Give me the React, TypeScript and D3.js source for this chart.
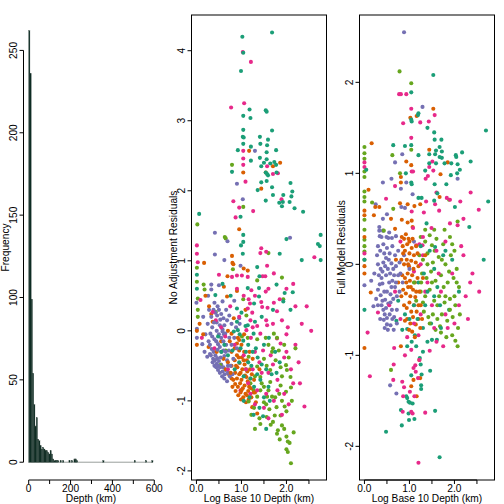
import * as d3 from 'd3';

const FONT = '"Liberation Sans", Arial, Helvetica, sans-serif';
const FS = 10.2;

const TEAL = '#1B9E77';
const ORANGE = '#D95F02';
const PURPLE = '#7570B3';
const PINK = '#E7298A';
const GREEN = '#66A61E';

// histogram of depth (km), 6 km bins
const binWidth = 6;
const binStart = [0, 6, 12, 18, 24, 30, 36, 42, 48, 54, 60, 66, 72, 78, 84, 90, 96, 102, 108, 114, 120, 126, 132, 138, 150, 162, 192, 204, 216, 222, 228, 354, 504, 558, 588];
const binCount = [262, 236, 99, 54, 35, 22, 27, 14, 13, 10, 8, 9, 8, 7, 7, 6, 5, 7, 5, 2, 1, 1, 1, 1, 1, 1, 1, 1, 2, 2, 1, 1, 1, 1, 1];
const freqTicks = [0, 50, 100, 150, 200, 250];
const depthTicks = [0, 100, 200, 300, 400, 500, 600];
const depthLabels = [0, 200, 400, 600];

const logTicks = [0, 0.5, 1, 1.5, 2, 2.5];
const logLabels = [0, 1, 2];
const noAdjTicks = [-2, -1, 0, 1, 2, 3, 4];
const fullTicks = [-2, -1, 0, 1, 2];

type P = [number, number];

// ---- panel 2: No Adjustment Residuals ----
const teal2: P[] = [
  [1.68, 4.26], [1.02, 4.2], [1.04, 3.97], [0.99, 3.71], [1.18, 3.16], [1.54, 3.15], [1.56, 3.13], [1.04, 3.07], [1.2, 3.04],
  [1.04, 2.87], [1.68, 2.86], [1.03, 2.77], [1.05, 2.76], [1.41, 2.77], [1.59, 2.73], [1.04, 2.67], [1.21, 2.63], [1.42, 2.67],
  [1.57, 2.65], [0.92, 2.58], [1.77, 2.58], [1.56, 2.55], [1.41, 2.47], [1.56, 2.45], [1.21, 2.43], [1.5, 2.4], [1.64, 2.39],
  [1.73, 2.41], [1.77, 2.37], [1.44, 2.35], [0.79, 2.27], [1.54, 2.26], [1.57, 2.24], [1.59, 2.22], [1.78, 2.26], [1.44, 2.12],
  [1.56, 2.14], [2.09, 2.11], [1.68, 2.05], [1.36, 2.01], [2.13, 1.99], [1.7, 1.94], [1.93, 1.94], [2.11, 1.92], [2.07, 1.84],
  [1.54, 1.86], [1.84, 1.83], [1.92, 1.84], [1.9, 1.78], [2.18, 1.75], [2.37, 1.7], [0.06, 1.67], [0.98, 1.63], [1.04, 1.37],
  [1.04, 1.27], [0.99, 1.22], [2.0, 1.31], [2.7, 1.24], [2.74, 1.21], [2.76, 1.37],
  [1.03, 1.1], [1.85, 1.1], [2.34, 1.01], [2.76, 1.01], [1.35, 0.91], [0.01, 0.8], [1.4, 0.78], [1.78, 0.66], [0.58, 0.67],
  [0.01, 0.6], [1.14, 0.61], [1.39, 0.61], [1.96, 0.54], [0.42, 0.51], [0.76, 0.5], [1.28, 0.39], [1.39, 0.49], [1.93, 0.42],
  [0.9, 0.32], [1.0, 0.26], [2.09, 0.3], [2.14, 0.55], [0.9, 0.13], [1.09, 0.07], [1.14, 0.08], [1.3, 0.13], [0.48, -0.08],
  [0.83, -0.01], [0.92, 0.01], [0.96, -0.05], [1.04, -0.14], [1.27, -0.04], [1.61, -0.1], [0.62, -0.2], [0.8, -0.28],
  [1.1, -0.3], [1.36, -0.38], [1.75, -0.3], [0.95, -0.45], [1.22, -0.5], [1.55, -0.55], [1.05, -0.65], [1.42, -0.7],
  [1.67, -0.62], [1.28, -0.8], [1.18, -0.95], [1.5, -0.95], [1.63, -1.0], [1.4, -1.1], [1.48, -1.22], [1.55, -1.4],
  [1.27, -1.2], [0.7, -0.35], [0.85, -0.55], [1.15, -0.2], [0.55, -0.3], [1.32, -0.25], [1.45, 0.2], [1.7, 0.3], [1.85, -0.45],
  [1.15, -0.45], [1.25, -0.3], [1.45, -0.48], [1.6, -0.8], [1.35, -0.62], [1.05, -1.0], [1.2, -0.68], [0.98, -0.25],
  [1.5, -0.2], [1.78, -0.6],
];

const pink2: P[] = [
  [1.03, 3.98], [1.21, 3.84], [1.06, 3.25], [0.77, 3.19], [1.04, 2.57], [1.04, 2.46], [1.04, 2.37], [1.57, 2.35], [1.7, 2.24],
  [1.81, 2.25], [1.09, 2.13], [1.89, 1.88], [0.82, 1.85], [0.95, 1.76], [1.26, 1.71], [0.87, 1.62], [0.01, 1.22], [1.44, 1.18],
  [0.01, 1.1], [1.42, 1.11], [1.55, 1.13], [2.62, 1.05], [0.03, 0.98], [1.57, 0.93], [0.5, 0.8], [0.79, 0.77], [0.9, 0.79],
  [1.01, 0.79], [1.14, 0.77], [1.47, 0.78], [1.53, 0.78], [1.72, 0.82], [2.15, 0.67], [0.9, 0.6], [1.54, 0.56], [1.22, 0.58],
  [0.09, 0.44], [1.16, 0.45], [1.19, 0.39], [1.44, 0.41], [1.72, 0.4], [0.36, 0.27], [1.14, 0.32], [1.24, 0.26], [1.58, 0.33],
  [1.79, 0.28], [1.46, 0.34], [0.43, 0.15], [1.2, 0.15], [1.35, 0.07], [1.55, 0.15], [1.57, 0.08], [2.03, 0.05], [2.34, 0.1],
  [0.12, -0.1], [0.64, -0.08], [1.11, 0.01], [1.21, -0.1], [1.42, -0.04], [1.79, -0.11], [1.87, -0.18], [2.0, -0.05],
  [2.2, -0.2], [2.27, -0.45], [1.3, -0.3], [1.48, -0.28], [1.65, -0.35], [1.95, -0.38], [1.05, -0.35], [0.85, -0.2],
  [1.25, -0.55], [1.4, -0.45], [1.6, -0.6], [1.8, -0.7], [2.1, -0.55], [2.3, -0.75], [1.15, -0.75], [1.35, -0.85],
  [1.55, -0.9], [1.72, -1.0], [1.95, -0.9], [2.05, -1.05], [2.4, -1.08], [1.3, -1.05], [1.6, -1.25], [1.9, -1.2],
  [0.4, -0.25], [0.7, -0.55], [0.55, 0.05], [0.98, -0.85], [2.55, 0.0],
  [1.3, 0.5], [1.6, 0.6], [1.85, 0.45], [2.0, 0.6], [1.25, 0.05], [1.7, 0.1], [1.9, 0.15], [2.2, 0.35], [1.45, -0.6],
  [1.7, -0.48], [2.0, -0.3], [1.1, -0.55], [1.2, -0.9], [1.5, -1.1], [1.8, -0.85], [2.15, -0.75], [0.95, 0.2], [1.05, 0.5],
  [0.75, 0.35], [2.45, 0.35],
];

const green2: P[] = [
  [0.79, 2.37], [1.04, 1.77], [0.02, 1.52], [0.63, 1.34], [0.65, 1.32],
  [0.01, 0.9], [0.01, 0.7], [0.03, 0.46], [0.03, 0.3], [0.03, 0.2], [0.16, 0.66], [0.18, 0.59], [0.81, 0.88], [1.6, 1.11],
  [1.35, 0.72], [1.9, 0.76], [1.04, 0.45], [1.93, 0.45], [1.11, 0.22], [0.43, 0.27], [1.01, -0.08], [1.14, -0.1],
  [1.35, -0.12], [1.54, -0.1], [1.72, -0.04], [2.07, -1.6], [2.03, -1.58], [2.0, -1.51], [2.16, -1.45], [2.0, -1.69],
  [2.1, -1.89], [2.03, -1.73], [1.79, -1.47], [1.81, -1.42], [1.65, -1.34], [1.42, -1.33], [1.56, -1.23], [1.74, -1.21],
  [1.87, -1.21], [1.96, -1.08], [1.78, -1.09], [1.62, -1.12], [1.68, -0.94], [1.84, -0.9], [1.99, -0.87], [2.1, -0.81],
  [1.87, -0.78], [2.09, -0.66], [2.01, -0.56], [1.99, -0.49], [2.05, -0.38], [1.87, -0.52], [1.76, -0.42], [1.64, -0.56],
  [1.64, -0.73], [1.5, -0.8], [1.42, -0.85], [1.35, -0.94], [1.27, -0.85], [1.2, -0.75], [1.42, -0.66], [1.56, -0.5],
  [1.35, -0.51], [1.16, -0.37], [1.79, -0.1], [1.83, -0.28], [1.5, -1.02], [1.57, -0.94], [1.16, -1.01], [0.65, -0.28],
  [0.53, -0.49], [1.28, -1.1], [1.9, -1.35], [1.7, -0.25], [2.2, -0.25],
  [1.45, -0.75], [1.6, -0.85], [1.75, -0.95], [1.9, -1.0], [2.0, -1.15], [1.7, -1.3], [1.85, -1.55], [1.95, -1.4],
  [1.55, -1.05], [1.3, -0.65], [1.5, -0.4], [1.68, -0.3], [1.9, -0.65], [2.12, -1.0], [1.4, -1.25], [1.3, -1.4],
  [1.22, -1.2], [1.1, -0.55], [1.6, -0.2], [1.95, -0.2],
];

const orange2: P[] = [
  [1.17, 2.57], [1.04, 2.26], [1.54, 2.26], [1.7, 2.35], [1.86, 2.4], [1.44, 2.03], [0.95, 1.45],
  [0.79, 1.07], [0.17, 0.97], [0.8, 0.97], [0.82, 0.95], [1.05, 0.89], [1.14, 0.86], [0.69, 0.78], [0.61, 0.63], [0.9, 0.57],
  [0.68, 0.49], [0.33, 0.24], [1.09, 0.3], [0.36, 0.13], [0.83, 0.18], [0.07, 0.1], [0.01, 0.0], [0.01, -0.2], [0.27, -0.23],
  [0.7, 0.0], [0.78, -0.04], [0.95, -0.13],
  [0.78, -0.3], [0.78, -0.5], [0.78, -0.68], [0.8, -0.8], [0.85, -0.25], [0.85, -0.42], [0.86, -0.6], [0.86, -0.76],
  [0.87, -0.86], [0.9, -0.18], [0.9, -0.35], [0.91, -0.52], [0.9, -0.68], [0.92, -0.8], [0.93, -0.92], [0.95, -0.28],
  [0.96, -0.46], [0.95, -0.62], [0.97, -0.75], [0.98, -0.88], [0.99, -0.98], [1.0, -0.2], [1.01, -0.38], [1.02, -0.55],
  [1.0, -0.7], [1.03, -0.82], [1.04, -0.95], [1.06, -0.3], [1.07, -0.48], [1.08, -0.64], [1.07, -0.78], [1.09, -0.9],
  [1.1, -1.02], [1.12, -0.42], [1.13, -0.58], [1.14, -0.72], [1.15, -0.86], [1.16, -0.98], [1.19, -0.55], [1.2, -0.68],
  [1.21, -0.82], [1.22, -0.95], [1.24, -1.09], [1.28, -0.7], [1.3, -0.88], [1.35, -1.18], [1.32, -1.02], [0.7, -0.45],
  [0.72, -0.62], [0.65, -0.55], [0.6, -0.4], [0.55, -0.15], [0.45, -0.3], [1.4, -0.55], [1.25, -0.4], [0.2, 0.5], [0.28, 0.35],
  [0.15, -0.05],
  [0.82, -0.7], [0.88, -0.5], [0.94, -0.38], [1.0, -0.85], [1.05, -0.42], [1.11, -0.66], [1.17, -0.8], [1.23, -0.62],
  [1.27, -0.88], [0.92, -0.1], [1.06, -0.05], [1.18, -0.3], [0.76, -0.6], [0.98, -0.6], [1.12, -0.92], [0.74, -0.15],
];

const purple2: P[] = [
  [1.3, 2.57], [0.9, 2.1], [1.03, 1.88], [0.41, 1.4], [0.69, 1.28], [2.08, 1.33], [0.41, 1.09], [0.62, 1.01], [0.98, 0.93],
  [0.33, 0.66], [0.33, 0.59], [0.5, 0.65], [0.0, 0.4], [0.26, 0.5], [0.58, 0.42], [0.84, 0.43], [0.28, 0.3], [0.01, 0.03],
  [0.01, -0.1], [0.13, -0.19], [0.18, -0.3], [0.24, -0.37], [0.3, -0.33],
  [0.38, 0.3], [0.42, 0.26], [0.46, 0.22], [0.5, 0.3], [0.55, 0.24], [0.6, 0.18], [0.45, 0.12], [0.52, 0.08], [0.58, 0.02],
  [0.64, -0.04], [0.68, 0.15], [0.73, 0.22], [0.78, 0.1], [0.95, 0.18], [0.96, 0.1], [0.31, -0.04], [0.35, -0.08],
  [0.4, -0.12], [0.44, -0.15], [0.48, -0.19], [0.52, -0.23], [0.58, -0.01], [0.61, -0.05], [0.73, -0.1], [0.84, -0.1],
  [0.3, -0.2], [0.34, -0.26], [0.38, -0.3], [0.42, -0.35], [0.46, -0.39], [0.5, -0.43], [0.55, -0.48], [0.6, -0.52],
  [0.65, -0.56], [0.36, -0.45], [0.4, -0.5], [0.44, -0.52], [0.48, -0.56], [0.52, -0.6], [0.57, -0.65], [0.62, -0.68],
  [0.68, -0.72], [0.56, -0.3], [0.62, -0.36], [0.68, -0.42], [0.72, -0.28], [0.66, -0.2], [0.76, -0.5], [0.8, -0.62],
  [0.82, -0.4], [0.2, -0.05], [0.25, 0.1], [0.35, 0.05], [0.4, 0.4], [0.15, 0.2], [0.88, 0.05], [0.9, -0.25], [0.45, 0.0],
  [0.5, -0.05], [0.55, -0.1], [0.6, -0.15], [0.65, -0.3], [0.7, -0.6], [0.74, -0.65],
  [0.32, -0.35], [0.37, -0.4], [0.41, -0.42], [0.45, -0.47], [0.49, -0.5], [0.53, -0.52], [0.58, -0.58], [0.63, -0.62],
  [0.39, 0.12], [0.47, 0.35], [0.53, 0.16], [0.62, 0.08], [0.66, 0.3], [0.7, -0.5], [0.78, -0.2], [0.6, -0.28],
  [0.54, -0.38], [0.47, -0.27], [0.33, 0.2], [0.27, -0.15],
];

// ---- panel 3: Full Model Residuals ----
const teal3: P[] = [
  [1.53, 2.08], [1.04, 1.89], [1.2, 1.66], [1.19, 1.64], [1.04, 1.59], [1.05, 1.57], [1.4, 1.5], [1.55, 1.45], [2.7, 1.47],
  [1.56, 1.37], [1.71, 1.37], [0.64, 1.31], [0.9, 1.3], [1.04, 1.31], [1.67, 1.29], [1.59, 1.25], [1.72, 1.24], [2.17, 1.23],
  [2.03, 1.2], [1.2, 1.2], [1.44, 1.21], [1.57, 1.21], [1.67, 1.18], [1.72, 1.17], [2.04, 1.18], [2.36, 1.13], [1.44, 1.11],
  [1.59, 1.11], [1.78, 1.11], [1.93, 1.11], [2.07, 1.1], [0.04, 1.04], [1.35, 1.03], [2.12, 1.04], [2.06, 1.0], [0.92, 1.0],
  [1.92, 0.98], [1.04, 0.9], [1.05, 0.88], [1.56, 0.88], [1.82, 0.88], [1.2, 0.73], [1.27, 0.73], [1.55, 0.7], [2.75, 0.69],
  [2.01, 0.63], [2.33, 0.41], [1.57, 0.19], [1.62, 0.78], [1.38, 0.45],
  [0.0, 0.05], [0.0, -0.5], [0.71, -0.62], [0.84, -0.72], [0.95, -0.71], [1.3, -0.96], [1.5, -0.83], [1.61, -0.83],
  [1.23, -1.03], [1.25, -1.1], [1.46, -1.17], [1.27, -1.21], [1.04, -1.22], [1.26, -1.33], [1.26, -1.37], [0.93, -1.45],
  [0.95, -1.47], [0.98, -1.51], [1.01, -1.52], [1.07, -1.53], [0.81, -1.6], [0.98, -1.64], [0.99, -1.71], [1.11, -1.7],
  [1.57, -1.61], [0.83, -1.77], [0.48, -1.84], [1.67, -2.12],
  [1.2, -0.2], [1.35, -0.45], [1.48, -0.65], [1.05, -0.85], [1.15, -0.9], [1.62, -0.25], [1.75, 0.1], [1.88, -0.5],
  [2.1, -0.3], [1.45, 0.15], [1.3, -0.7], [0.9, -0.55], [1.0, -0.6], [1.12, -0.78], [1.4, -0.85], [2.65, 0.05],
  [1.55, -0.05], [0.75, -0.4], [1.68, -0.45],
  [1.25, 0.2], [1.4, -0.3], [1.55, -0.35], [1.7, -0.7], [1.8, 0.15], [1.95, 0.05], [1.1, -0.45], [1.32, -0.1], [1.18, -0.6],
  [0.95, -0.9],
];

const pink3: P[] = [
  [0.77, 1.87], [0.81, 1.87], [0.93, 1.87], [1.04, 1.71], [1.56, 1.64], [0.86, 1.55], [1.24, 1.56], [1.43, 1.57], [1.04, 1.39],
  [1.51, 1.13], [0.0, 1.12], [0.0, 1.07], [1.05, 1.02], [1.44, 1.07], [1.53, 1.03], [1.08, 1.02], [1.36, 0.94], [1.41, 0.97],
  [0.68, 0.86], [0.48, 0.72], [1.05, 0.58], [1.37, 0.69], [1.6, 0.79], [1.57, 0.66], [1.83, 0.73], [1.9, 0.71], [2.13, 0.69],
  [2.36, 0.79], [2.54, 0.6], [1.32, 0.57], [1.66, 0.59], [2.07, 0.43], [1.49, 0.4], [1.15, 0.21], [1.22, 0.22], [1.29, 0.21],
  [1.08, 0.4], [0.0, 0.12], [0.07, -0.75], [0.12, -1.23], [0.3, -0.53], [0.8, 0.25], [1.3, 0.3], [1.8, 0.25], [2.2, 0.1],
  [2.4, -0.1], [2.55, -0.3], [1.1, -0.08], [1.4, -0.2], [1.7, -0.3], [1.95, -0.1], [2.25, -0.35], [1.25, -0.55],
  [1.5, -0.45], [1.8, -0.55], [2.0, -0.65], [2.3, -0.6], [0.95, -0.8], [1.2, -0.78], [1.6, -0.85], [1.85, -0.7],
  [0.55, -0.45], [0.68, -0.3], [0.8, -0.6], [0.66, -0.92], [1.04, -0.94], [1.13, -1.11], [1.09, -1.14], [0.65, -1.1],
  [1.14, -1.18], [1.19, -1.25], [0.64, -1.27], [0.84, -1.29], [0.88, -1.35], [0.86, -1.45], [1.11, -1.45], [1.01, -1.4],
  [1.04, -1.62], [1.07, -1.64], [0.85, -1.62], [1.35, -1.63], [1.2, -2.18], [1.22, -1.05],
  [1.3, 0.1], [1.6, 0.15], [1.9, 0.45], [2.2, 0.5], [1.35, -0.3], [1.65, -0.1], [2.1, -0.45], [2.35, -0.2], [1.55, -0.7],
  [1.75, -0.9], [1.45, -0.95], [0.9, -1.0], [1.1, -0.65], [2.15, 0.2], [1.25, 0.0],
];

const green3: P[] = [
  [0.0, 1.29], [0.0, 1.22], [0.0, 1.16], [0.0, 1.02], [0.0, 0.96], [0.0, 0.8], [0.0, 0.74], [0.0, 0.69], [0.0, 0.49],
  [0.0, 0.38], [0.0, 0.27], [0.0, 0.14], [0.0, 0.05], [0.0, 0.2], [0.78, 2.12], [1.04, 1.99], [1.04, 1.26], [0.62, 1.2],
  [0.79, 1.0], [0.17, 0.68], [0.64, 0.61], [1.88, 0.71], [2.07, 0.47], [1.78, 0.38], [0.43, 0.37], [1.55, 0.38], [1.5, 0.21],
  [0.59, -1.16],
  [1.25, 0.3], [1.35, 0.25], [1.45, 0.32], [1.6, 0.28], [1.75, 0.22], [1.9, 0.3], [2.0, 0.15], [1.22, 0.1], [1.3, 0.05],
  [1.4, 0.12], [1.52, 0.02], [1.65, 0.08], [1.8, 0.0], [1.92, 0.1], [2.05, -0.05], [1.28, -0.1], [1.38, -0.15],
  [1.48, -0.08], [1.58, -0.18], [1.7, -0.12], [1.85, -0.2], [1.98, -0.15], [2.1, -0.25], [1.25, -0.3], [1.35, -0.35],
  [1.45, -0.28], [1.55, -0.4], [1.66, -0.35], [1.78, -0.42], [1.9, -0.38], [2.02, -0.45], [1.32, -0.52], [1.42, -0.58],
  [1.52, -0.55], [1.62, -0.6], [1.72, -0.55], [1.84, -0.62], [1.96, -0.58], [2.08, -0.7], [1.7, -0.75], [1.82, -0.8],
  [1.95, -0.78], [2.07, -0.9], [2.02, -0.84], [1.58, -0.72], [1.1, -0.2], [1.15, -0.4],
  [1.3, -0.42], [1.5, -0.2], [1.62, -0.45], [1.76, -0.25], [1.88, -0.08], [2.0, -0.35], [1.4, 0.0], [1.56, 0.15],
  [1.72, 0.05], [1.95, 0.22], [1.45, -0.65], [1.68, -0.68], [1.9, -0.5], [2.12, -0.55], [1.35, 0.38], [1.26, -0.2],
  [1.8, -0.35], [2.05, -0.2],
];

const orange3: P[] = [
  [1.53, 1.71], [1.16, 1.63], [1.02, 1.61], [0.16, 1.33], [1.44, 1.26], [0.93, 1.13], [1.85, 1.12], [1.04, 1.09],
  [1.69, 0.99], [0.81, 0.96], [0.81, 0.9], [0.09, 0.82], [0.24, 0.63], [0.33, 0.63], [0.79, 0.67], [0.96, 0.66],
  [1.11, 0.64], [1.24, 0.66], [1.67, 0.74], [0.0, 0.59], [0.0, 0.54], [0.21, 0.54], [0.59, 0.5], [0.68, 0.39], [0.83, 0.49],
  [0.96, 0.46], [1.05, 0.48], [1.07, 0.41], [0.83, 0.3], [0.92, 0.33], [0.98, 0.28], [0.0, -0.1], [0.14, -0.31],
  [0.0, -0.92], [0.81, -0.9], [1.22, -1.05], [1.24, -1.25], [1.09, -1.27], [1.04, -1.34], [1.16, -1.45], [0.0, 0.3],
  [0.0, -0.02],
  [0.85, 0.2], [0.9, 0.15], [0.95, 0.22], [1.0, 0.12], [1.05, 0.18], [1.1, 0.1], [1.15, 0.2], [0.82, 0.05], [0.88, 0.0],
  [0.94, 0.05], [0.99, -0.02], [1.04, 0.04], [1.09, -0.05], [1.14, 0.02], [1.2, -0.02], [0.84, -0.12], [0.9, -0.15],
  [0.96, -0.1], [1.01, -0.18], [1.06, -0.12], [1.12, -0.2], [1.18, -0.15], [0.86, -0.28], [0.92, -0.32], [0.97, -0.25],
  [1.02, -0.35], [1.08, -0.28], [1.13, -0.36], [1.22, -0.3], [0.88, -0.45], [0.94, -0.48], [1.0, -0.42], [1.04, -0.52],
  [1.1, -0.45], [1.16, -0.52], [1.25, -0.45], [0.95, -0.6], [1.02, -0.65], [1.08, -0.58], [1.14, -0.66], [1.2, -0.6],
  [1.06, -0.74], [0.99, -0.72], [0.75, -0.2], [0.7, 0.05], [1.3, -0.15], [1.35, 0.1],
  [0.88, 0.28], [0.97, 0.0], [1.07, 0.28], [1.18, 0.12], [0.9, -0.62], [1.12, -0.8], [1.24, -0.7], [0.82, -0.35],
  [1.28, -0.6], [0.93, -0.2], [1.03, -0.25], [1.15, -0.3], [1.2, -0.45], [0.86, 0.12], [1.0, 0.25],
];

const purple3: P[] = [
  [0.88, 2.55], [1.29, 1.73], [0.84, 1.21], [0.68, 1.12], [2.07, 0.94], [0.41, 0.9], [0.6, 0.94], [0.93, 0.9], [0.81, 0.83],
  [1.07, 0.77], [0.25, 0.66], [0.82, 0.63], [0.9, 0.62], [0.41, 0.5], [0.5, 0.55], [0.33, 0.41], [0.33, 0.37], [0.41, 0.37],
  [0.34, 0.31], [0.49, 0.3], [0.53, 0.29], [0.61, 0.29], [0.7, 0.31], [0.0, -0.23], [0.15, -0.18], [0.2, -0.46],
  [0.57, -1.33], [0.71, -1.42],
  [0.48, 0.07], [0.6, 0.01], [0.4, -0.21], [0.44, -0.3], [0.46, -0.39], [0.53, -0.43], [0.61, -0.5], [0.43, -0.61],
  [0.5, -0.59], [0.58, -0.67], [0.65, -0.72], [0.3, 0.2], [0.35, 0.15], [0.42, 0.22], [0.5, 0.18], [0.56, 0.12],
  [0.62, 0.2], [0.68, 0.1], [0.75, 0.15], [0.3, 0.0], [0.36, -0.05], [0.42, 0.02], [0.52, -0.05], [0.57, -0.1],
  [0.64, -0.05], [0.7, -0.02], [0.78, 0.02], [0.32, -0.12], [0.38, -0.15], [0.48, -0.12], [0.55, -0.2], [0.62, -0.18],
  [0.68, -0.25], [0.75, -0.12], [0.3, -0.28], [0.36, -0.34], [0.5, -0.3], [0.58, -0.33], [0.64, -0.38], [0.72, -0.35],
  [0.78, -0.3], [0.38, -0.45], [0.42, -0.5], [0.48, -0.48], [0.56, -0.55], [0.66, -0.58], [0.72, -0.5], [0.45, -0.7],
  [0.52, -0.72], [0.35, -0.6], [0.26, -0.38], [0.22, -0.1], [0.28, 0.1], [0.85, -0.2], [0.88, 0.1], [1.0, -0.05], [1.1, 0.25],
  [0.34, -0.22], [0.4, -0.08], [0.46, -0.02], [0.54, 0.05], [0.6, -0.25], [0.66, -0.12], [0.72, -0.65], [0.5, -0.66],
  [0.4, -0.4], [0.44, 0.12], [0.58, -0.42], [0.7, -0.2], [0.62, -0.6], [0.38, 0.3], [0.55, 0.35], [0.45, -0.55],
  [0.8, -0.1], [0.3, -0.45],
];

const TOP = 15;
const BOTTOM = 480;
const FIG_W = 168;
const LEFT = 23.5;
const PLOT_W = 135;

const txt = { fontFamily: FONT, fontSize: FS, fill: '#000' } as const;

function YAxis({ x, scale, ticks, title }: { x: number; scale: d3.ScaleLinear<number, number>; ticks: number[]; title: string }) {
  return (
    <g>
      <line x1={x} x2={x} y1={scale(ticks[0])} y2={scale(ticks[ticks.length - 1])} stroke="#000" />
      {ticks.map((t) => (
        <g key={t}>
          <line x1={x - 4} x2={x} y1={scale(t)} y2={scale(t)} stroke="#000" />
          <text {...txt} transform={`translate(${x - 10.3},${scale(t)}) rotate(-90)`} textAnchor="middle" dominantBaseline="central">
            {t}
          </text>
        </g>
      ))}
      <text {...txt} transform={`translate(${x - 18.5},${(TOP + BOTTOM) / 2}) rotate(-90)`} textAnchor="middle" dominantBaseline="central">
        {title}
      </text>
    </g>
  );
}

function XAxis({ scale, ticks, labels, fmt, title }: { scale: d3.ScaleLinear<number, number>; ticks: number[]; labels: number[]; fmt: (v: number) => string; title: string }) {
  const [r0, r1] = scale.range();
  return (
    <g>
      <line x1={scale(ticks[0])} x2={scale(ticks[ticks.length - 1])} y1={BOTTOM} y2={BOTTOM} stroke="#000" />
      {ticks.map((t) => (
        <line key={t} x1={scale(t)} x2={scale(t)} y1={BOTTOM} y2={BOTTOM + 4} stroke="#000" />
      ))}
      {labels.map((t) => (
        <text key={t} {...txt} x={scale(t)} y={488.3} textAnchor="middle" dominantBaseline="central">
          {fmt(t)}
        </text>
      ))}
      <text {...txt} x={(r0 + r1) / 2} y={498.6} textAnchor="middle" dominantBaseline="central">
        {title}
      </text>
    </g>
  );
}

function Histogram() {
  const left = LEFT;
  const x = d3.scaleLinear().domain([-24.8, 620.2]).range([left, left + PLOT_W]);
  const y = d3.scaleLinear().domain([-10.8, 271.5]).range([BOTTOM, TOP]);
  return (
    <g>
      <line x1={x(0)} x2={x(594)} y1={y(0)} y2={y(0)} stroke="#7f8783" strokeWidth={0.8} />
      {binStart.map((s, i) => (
        <rect
          key={s}
          x={x(s)}
          y={y(binCount[i])}
          width={x(s + binWidth) - x(s)}
          height={y(0) - y(binCount[i])}
          fill="#0a2a20"
          stroke="#33463f"
          strokeWidth={0.3}
        />
      ))}
      <YAxis x={left} scale={y} ticks={freqTicks} title="Frequency" />
      <XAxis scale={x} ticks={depthTicks} labels={depthLabels} fmt={(v) => String(v)} title="Depth (km)" />
    </g>
  );
}

// draw the groups interleaved (round robin) so colours mix like in data order
function interleave(series: { pts: P[]; color: string }[]) {
  const out: { p: P; color: string }[] = [];
  const n = d3.max(series, (s) => s.pts.length) ?? 0;
  for (let i = 0; i < n; i++) {
    for (const s of series) {
      if (i < s.pts.length) out.push({ p: s.pts[i], color: s.color });
    }
  }
  return out;
}

function ScatterPanel({ index, yDomain, yTicks, title, series }: { index: number; yDomain: [number, number]; yTicks: number[]; title: string; series: { pts: P[]; color: string }[] }) {
  const left = LEFT + FIG_W * index;
  const x = d3.scaleLinear().domain([-0.11, 2.89]).range([left, left + PLOT_W]);
  const y = d3.scaleLinear().domain(yDomain).range([BOTTOM, TOP]);
  const pts = interleave(series);
  return (
    <g>
      {pts.map((d, i) => (
        <circle key={i} cx={x(d.p[0])} cy={y(d.p[1])} r={2.05} fill={d.color} />
      ))}
      <rect x={left} y={TOP} width={PLOT_W} height={BOTTOM - TOP} fill="none" stroke="#000" />
      <YAxis x={left} scale={y} ticks={yTicks} title={title} />
      <XAxis scale={x} ticks={logTicks} labels={logLabels} fmt={(v) => v.toFixed(1)} title="Log Base 10 Depth (km)" />
    </g>
  );
}

export default function App() {
  return (
    <svg width={504} height={504} style={{ position: 'absolute', left: 0, top: 0, background: '#fff' }}>
      <rect width={504} height={504} fill="#fff" />
      <Histogram />
      <ScatterPanel
        index={1}
        yDomain={[-2.13, 4.51]}
        yTicks={noAdjTicks}
        title="No Adjustment Residuals"
        series={[
          { pts: teal2, color: TEAL },
          { pts: green2, color: GREEN },
          { pts: pink2, color: PINK },
          { pts: orange2, color: ORANGE },
          { pts: purple2, color: PURPLE },
        ]}
      />
      <ScatterPanel
        index={2}
        yDomain={[-2.37, 2.74]}
        yTicks={fullTicks}
        title="Full Model Residuals"
        series={[
          { pts: teal3, color: TEAL },
          { pts: green3, color: GREEN },
          { pts: pink3, color: PINK },
          { pts: orange3, color: ORANGE },
          { pts: purple3, color: PURPLE },
        ]}
      />
    </svg>
  );
}
